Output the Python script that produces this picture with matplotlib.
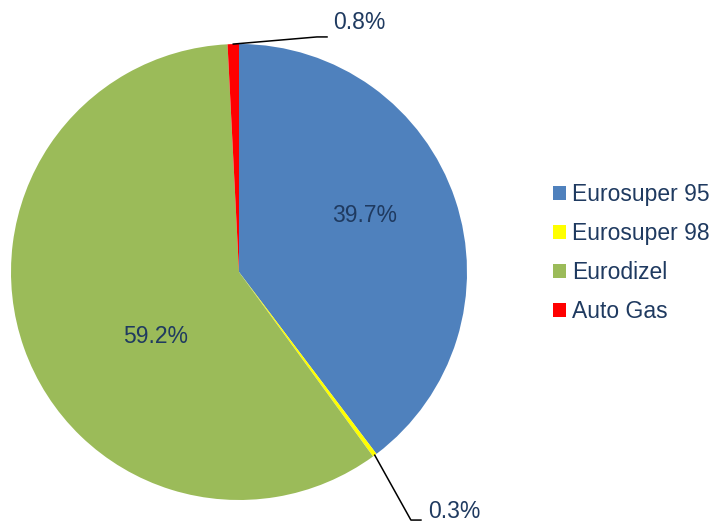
import matplotlib.pyplot as plt
import numpy as np
from matplotlib.patches import Patch

plt.rcParams['font.family'] = ['Liberation Sans', 'DejaVu Sans']

# Data
fuels = ['Eurosuper 95', 'Eurosuper 98', 'Eurodizel', 'Auto Gas']
shares = [39.7, 0.3, 59.2, 0.8]
colors = ['#4F81BD', '#FFFF00', '#9BBB59', '#FF0000']
text_col = '#1F3A60'

fig = plt.figure(figsize=(7.17, 5.22), dpi=100)
# square axes holding the pie (radius 1)
ax = fig.add_axes([11 / 717, 22 / 522, 456 / 717, 456 / 522])
wedges, _ = ax.pie(shares, colors=colors, startangle=90, counterclock=False,
                   radius=1, wedgeprops=dict(linewidth=0))
ax.set_xlim(-1, 1)
ax.set_ylim(-1, 1)
ax.axis('off')

# inside labels
ax.text(0.553, 0.25, f'{shares[0]}%', ha='center', va='center', fontsize=16.5, color=text_col)
ax.text(-0.368, -0.285, f'{shares[2]}%', ha='center', va='center', fontsize=16.5, color=text_col)

# outside labels with leader lines
def leader(w, elbow, end, txt_pos, label):
    ang = np.deg2rad((w.theta1 + w.theta2) / 2)
    x0, y0 = np.cos(ang), np.sin(ang)
    ax.plot([x0, elbow[0], end[0]], [y0, elbow[1], end[1]], color='black',
            lw=1.1, clip_on=False)
    ax.text(txt_pos[0], txt_pos[1], label, ha='left', va='center',
            fontsize=16.5, color=text_col, clip_on=False)

leader(wedges[3], (0.342, 1.031), (0.386, 1.031), (0.412, 1.096), f'{shares[3]}%')
leader(wedges[1], (0.754, -1.088), (0.798, -1.088), (0.829, -1.052), f'{shares[1]}%')

handles = [Patch(facecolor=c, edgecolor='none') for c in colors]
leg = fig.legend(handles, fuels, loc='center left', bbox_to_anchor=(553 / 717, 1 - 253 / 522),
                 frameon=False, fontsize=16.5, handlelength=0.57, handleheight=0.57,
                 handletextpad=0.26, labelspacing=0.69, borderpad=0, borderaxespad=0)
for t in leg.get_texts():
    t.set_color(text_col)

fig.savefig('out.png', dpi=100)
